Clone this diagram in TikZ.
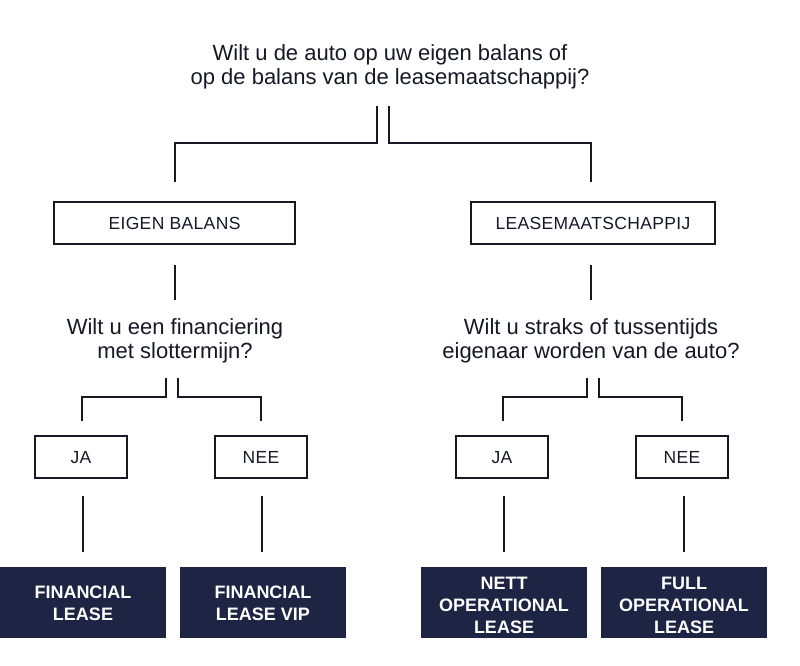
\documentclass[tikz,border=0pt]{standalone}
\usepackage{fontspec}
\setmainfont{Liberation Sans}
\newfontfamily\spacedfont[LetterSpace=2]{Liberation Sans}
\definecolor{navy}{RGB}{30,36,68}
\definecolor{ink}{RGB}{22,24,38}
\begin{document}
\begin{tikzpicture}[x=1pt,y=-1pt,
  question/.style={align=center,text=ink,font=\fontsize{22}{24}\selectfont,inner sep=0},
  optbox/.style={draw=ink,line width=1.4pt,minimum height=42pt,inner sep=0,text height=12.5pt,text depth=0pt,text=ink,font=\spacedfont\fontsize{17.5}{20}\selectfont},
  result/.style={fill=navy,inner sep=0,minimum width=166pt,minimum height=71pt},
  restext/.style={text=white,align=center,inner sep=0,font=\bfseries\fontsize{18}{22}\selectfont},
  conn/.style={draw=ink,line width=1.8pt}]
\useasboundingbox (0,0) rectangle (800,665);
% questions
\node[question] (q1) at (390,67) {Wilt u de auto op uw eigen balans of\\op de balans van de leasemaatschappij?};
\node[question] (q2) at (175,341) {Wilt u een financiering\\met slottermijn?};
\node[question] (q3) at (591,341) {Wilt u straks of tussentijds\\eigenaar worden van de auto?};
% option boxes
\node[optbox,minimum width=241pt] (eb) at (174.5,223) {EIGEN BALANS};
\node[optbox,minimum width=244pt] (lm) at (593,223) {LEASEMAATSCHAPPIJ};
\node[optbox,minimum width=92pt] (ja1) at (81,457) {JA};
\node[optbox,minimum width=92pt] (nee1) at (261,457) {NEE};
\node[optbox,minimum width=92pt] (ja2) at (502,457) {JA};
\node[optbox,minimum width=92pt] (nee2) at (682,457) {NEE};
% results
\node[result] (r1) at (83,602.5) {};
\node[result] (r2) at (263,602.5) {};
\node[result] (r3) at (504,602.5) {};
\node[result] (r4) at (684,602.5) {};
\node[restext] (r1t) at (83,603) {FINANCIAL\\LEASE};
\node[restext] (r2t) at (263,603) {FINANCIAL\\LEASE VIP};
\node[restext] (r3t) at (504,605) {NETT\\OPERATIONAL\\LEASE};
\node[restext] (r4t) at (684,605) {FULL\\OPERATIONAL\\LEASE};
% connector end points
\coordinate (a1) at (377,106); \coordinate (a2) at (175,182);
\coordinate (b1) at (389,106); \coordinate (b2) at (591,182);
\coordinate (c1) at (175,265); \coordinate (c2) at (175,300);
\coordinate (d1) at (591,265); \coordinate (d2) at (591,300);
\coordinate (e1) at (166,378); \coordinate (e2) at (82,421);
\coordinate (f1) at (178,378); \coordinate (f2) at (261,421);
\coordinate (g1) at (587,378); \coordinate (g2) at (503,421);
\coordinate (h1) at (599,378); \coordinate (h2) at (682,421);
\coordinate (i1) at (83,496); \coordinate (i2) at (83,552);
\coordinate (j1) at (262,496); \coordinate (j2) at (262,552);
\coordinate (k1) at (504,496); \coordinate (k2) at (504,552);
\coordinate (l1) at (684,496); \coordinate (l2) at (684,552);
% connectors
\draw[conn] (a1) -- ++(0,37) -| (a2);
\draw[conn] (b1) -- ++(0,37) -| (b2);
\draw[conn] (c1) -- (c2);
\draw[conn] (d1) -- (d2);
\draw[conn] (e1) -- ++(0,19) -| (e2);
\draw[conn] (f1) -- ++(0,19) -| (f2);
\draw[conn] (g1) -- ++(0,19) -| (g2);
\draw[conn] (h1) -- ++(0,19) -| (h2);
\draw[conn] (i1) -- (i2);
\draw[conn] (j1) -- (j2);
\draw[conn] (k1) -- (k2);
\draw[conn] (l1) -- (l2);
\end{tikzpicture}
\end{document}
